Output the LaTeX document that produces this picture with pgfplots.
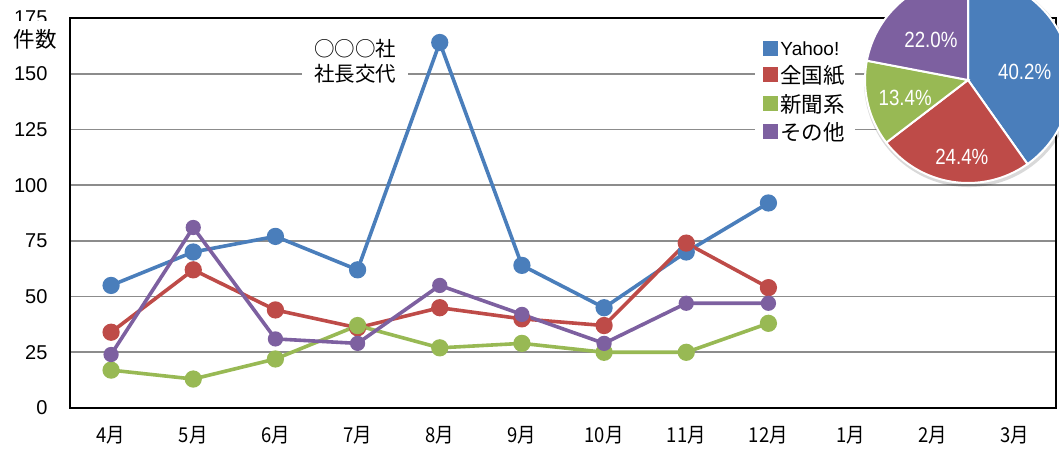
\documentclass[border=0pt]{standalone}
\usepackage{fontspec}
\setmainfont{Liberation Sans}
\newfontfamily\cjk{Noto Sans CJK JP}
\newfontfamily\cjkn[FakeStretch=0.9]{Noto Sans CJK JP}
\newfontfamily\narrowsans[FakeStretch=0.85]{Liberation Sans}
\usepackage{pgfplots}
\pgfplotsset{compat=1.18}
\usepackage{pgfplotstable}

\definecolor{cY}{HTML}{4A7EBB}
\definecolor{cZ}{HTML}{BE4B48}
\definecolor{cS}{HTML}{98B954}
\definecolor{cO}{HTML}{7D60A0}
\definecolor{gridc}{HTML}{8C8C8C}

\pgfplotstableread{
m yahoo zenkoku shinbun sonota
0 55 34 17 24
1 70 62 13 81
2 77 44 22 31
3 62 36 37 29
4 164 45 27 55
5 64 40 29 42
6 45 37 25 29
7 70 74 25 47
8 92 54 38 47
}\datatable

\begin{document}
\begin{tikzpicture}[x=1pt,y=1pt]
\useasboundingbox (0,0) rectangle (1059,448);
\clip (0,0) rectangle (1059,448);
\begin{axis}[
  at={(70pt,40pt)}, anchor=south west,
  width=986pt, height=390pt, scale only axis,
  xmin=-0.5, xmax=11.5, ymin=0, ymax=175,
  xtick={0,...,11},
  xticklabels={4月,5月,6月,7月,8月,9月,10月,11月,12月,1月,2月,3月},
  ytick={0,25,...,175},
  ymajorgrids,
  major grid style={draw=gridc, line width=1.6pt},
  axis line style={line width=2pt, black},
  major tick length=0pt,
  /pgf/number format/assume math mode=true,
  yticklabel style={font=\fontsize{20}{20}\selectfont, xshift=-19pt},
  xticklabel style={font=\cjkn\fontsize{20.5}{20.5}\selectfont, yshift=-15pt},
  legend style={at={(0.695,0.964)}, anchor=north west, fill=white, draw=none,
    font=\fontsize{19}{19}\selectfont, row sep=5pt, inner xsep=8pt, inner ysep=7pt,
    cells={anchor=west}},
  legend image code/.code={\fill[#1,draw=none] (0pt,-7pt) rectangle (15pt,8pt);},
]
\addplot[cY, line width=3.6pt, mark=*, mark size=6.8pt] table[x=m,y=yahoo]{\datatable};
\addlegendentry{Yahoo!}
\addplot[cZ, line width=3.6pt, mark=*, mark size=6.8pt] table[x=m,y=zenkoku]{\datatable};
\addlegendentry{\cjk\fontsize{21.5}{21.5}\selectfont 全国紙}
\addplot[cS, line width=3.6pt, mark=*, mark size=6.8pt] table[x=m,y=shinbun]{\datatable};
\addlegendentry{\cjk\fontsize{21.5}{21.5}\selectfont 新聞系}
\addplot[cO, line width=3.6pt, mark=*, mark size=5.8pt] table[x=m,y=sonota]{\datatable};
\addlegendentry{\cjk\fontsize{21.5}{21.5}\selectfont その他}
\end{axis}

% annotation
\node[fill=white, inner xsep=12pt, inner ysep=3pt, align=center,
      font=\cjk\fontsize{20.5}{25}\selectfont] at (355pt,387pt) {○○○社\\社長交代};
% y axis title
\node[fill=white, inner xsep=2pt, inner ysep=0pt, minimum height=36pt,
      font=\cjk\fontsize{21.5}{21.5}\selectfont] at (35pt,409pt) {件数};

% pie chart
\begin{axis}[at={(968pt,368pt)}, anchor=center, width=206pt, height=206pt,
  scale only axis, hide axis, xmin=-1, xmax=1, ymin=-1, ymax=1, clip=false]
\fill[black, opacity=0.15] (axis cs:0.01,-0.02) circle[radius=105pt];
\filldraw[fill=cY, draw=white, line width=2pt] (axis cs:0,0) -- ++(90:103pt)
   arc[start angle=90, delta angle=-3.6*40.2, radius=103pt] -- cycle;
\filldraw[fill=cZ, draw=white, line width=2pt] (axis cs:0,0) -- ++(90-3.6*40.2:103pt)
   arc[start angle=90-3.6*40.2, delta angle=-3.6*24.4, radius=103pt] -- cycle;
\filldraw[fill=cS, draw=white, line width=2pt] (axis cs:0,0) -- ++(90-3.6*64.6:103pt)
   arc[start angle=90-3.6*64.6, delta angle=-3.6*13.4, radius=103pt] -- cycle;
\filldraw[fill=cO, draw=white, line width=2pt] (axis cs:0,0) -- ++(90-3.6*78.0:103pt)
   arc[start angle=90-3.6*78.0, delta angle=-3.6*22.0, radius=103pt] -- cycle;
\begin{scope}[every node/.style={text=white, font=\narrowsans\fontsize{22}{22}\selectfont}]
\node at (axis cs:0.55,0.08) {40.2\%};
\node at (axis cs:-0.06,-0.75) {24.4\%};
\node at (axis cs:-0.61,-0.17) {13.4\%};
\node at (axis cs:-0.36,0.39) {22.0\%};
\end{scope}
\end{axis}
\end{tikzpicture}
\end{document}
